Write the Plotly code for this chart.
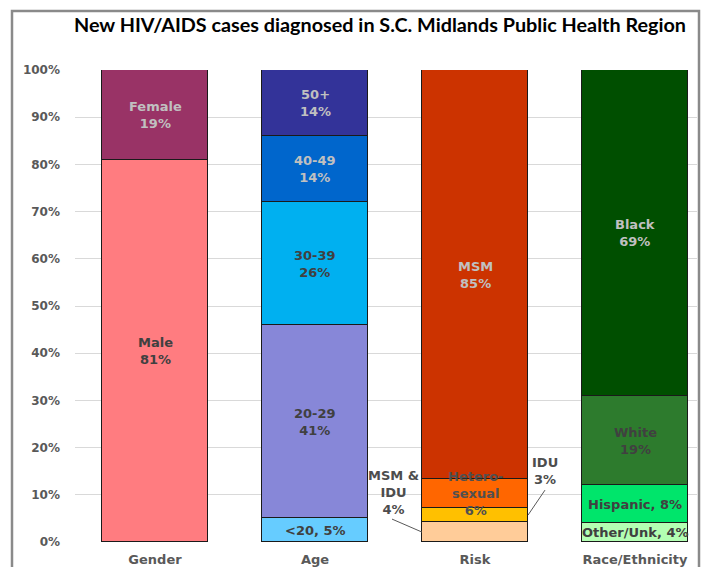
import plotly.graph_objects as go

# ---- data ----
categories = ["Gender", "Age", "Risk", "Race/Ethnicity"]

gender_labels = ["Male<br>81%", "Female<br>19%"]
gender_values = [81, 19]
gender_colors = ["#FF7C80", "#993366"]
gender_text_colors = ["#404040", "#C0C0C0"]

age_labels = ["<20, 5%", "20-29<br>41%", "30-39<br>26%", "40-49<br>14%", "50+<br>14%"]
age_values = [5, 41, 26, 14, 14]
age_colors = ["#66CCFF", "#8787D8", "#00B0F0", "#0066CC", "#333399"]
age_text_colors = ["#404040", "#404040", "#404040", "#C0C0C0", "#C0C0C0"]

risk_labels = ["MSM &<br>IDU<br>4%", "IDU<br>3%", "Hetero-<br>sexual<br>6%", "MSM<br>85%"]
risk_values = [4.2, 3.0, 6.1, 86.7]
risk_colors = ["#FFCC99", "#FFC000", "#FF6600", "#CC3300"]
risk_text_colors = ["#4d4d4d", "#4d4d4d", "#505050", "#C0C0C0"]

race_labels = ["Other/Unk, 4%", "Hispanic, 8%", "White<br>19%", "Black<br>69%"]
race_values = [4, 8, 19, 69]
race_colors = ["#B3FFB3", "#00E56B", "#2D7B2D", "#004F00"]
race_text_colors = ["#404040", "#404040", "#404040", "#C0C0C0"]

y_ticks = [0, 10, 20, 30, 40, 50, 60, 70, 80, 90, 100]
y_tick_text = [f"{v}%" for v in y_ticks]

groups = [
    (categories[0], gender_labels, gender_values, gender_colors, gender_text_colors),
    (categories[1], age_labels, age_values, age_colors, age_text_colors),
    (categories[2], risk_labels, risk_values, risk_colors, risk_text_colors),
    (categories[3], race_labels, race_values, race_colors, race_text_colors),
]

BAR_W = 0.6625
LABEL_FONT = dict(family="DejaVu Sans", size=13, color="#404040")

fig = go.Figure()
annotations = []
shapes = []

for ci, (cat, labels, values, colors, tcolors) in enumerate(groups):
    base = 0
    for si, (lab, val, col, tc) in enumerate(zip(labels, values, colors, tcolors)):
        fig.add_trace(go.Bar(
            x=[cat], y=[val], marker=dict(color=col, line=dict(color="#1a1a1a", width=1)),
            width=BAR_W, showlegend=False, hoverinfo="skip",
        ))
        mid = base + val / 2
        text = f"<b>{lab}</b>"
        if cat == "Risk" and si == 0:
            edge = ci - BAR_W / 2
            annotations.append(dict(x=edge, y=mid, xref="x", yref="y", text=text, showarrow=False,
                                    xshift=-29, yshift=40, font=dict(LABEL_FONT, color=tc)))
            shapes.append(dict(type="line", xref="x", yref="y", xsizemode="pixel", ysizemode="pixel",
                               xanchor=edge, yanchor=mid, x0=0, y0=0, x1=-30, y1=13,
                               line=dict(color="#595959", width=1)))
        elif cat == "Risk" and si == 1:
            edge = ci + BAR_W / 2
            annotations.append(dict(x=edge, y=mid, xref="x", yref="y", text=text, showarrow=False,
                                    xshift=17, yshift=44, font=dict(LABEL_FONT, color=tc)))
            shapes.append(dict(type="line", xref="x", yref="y", xsizemode="pixel", ysizemode="pixel",
                               xanchor=edge, yanchor=mid, x0=0, y0=0, x1=17, y1=25,
                               line=dict(color="#595959", width=1)))
        else:
            annotations.append(dict(x=ci, y=mid, xref="x", yref="y", text=text, showarrow=False,
                                    font=dict(LABEL_FONT, color=tc)))
        base += val

# Title
annotations.append(dict(x=(380 - 75) / 622, y=1.0, xref="paper", yref="paper", xanchor="center", yanchor="middle",
                        yshift=46, text="<b>New HIV/AIDS cases diagnosed in S.C. Midlands Public Health Region</b>",
                        showarrow=False, font=dict(family="Lato", size=19.8, color="#000000")))

# outer chart frame
shapes.append(dict(type="rect", xref="paper", yref="paper", x0=(12 - 75) / 622, x1=(699 - 75) / 622,
                   y0=-0.3, y1=(542 - 11) / 472, line=dict(color="#8a8a8a", width=2.5), layer="above"))

fig.update_layout(
    width=702, height=567,
    margin=dict(l=75, r=5, t=70, b=25),
    barmode="stack", bargap=0,
    plot_bgcolor="white", paper_bgcolor="white",
    annotations=annotations, shapes=shapes,
    xaxis=dict(type="category", categoryorder="array", categoryarray=categories,
               range=[-0.5, 3.3875], showgrid=False, showline=False, zeroline=False, ticks="",
               ticklabelstandoff=8, automargin=False,
               tickfont=dict(family="DejaVu Sans", size=13, color="#595959"),
               tickvals=categories, ticktext=[f"<b>{c}</b>" for c in categories]),
    yaxis=dict(range=[0, 100], tickvals=y_ticks, ticktext=[f"<b>{t}</b>" for t in y_tick_text],
               showgrid=True, gridcolor="#D9D9D9", gridwidth=1, zeroline=False, showline=False,
               ticks="", ticklabelstandoff=14, automargin=False,
               tickfont=dict(family="DejaVu Sans", size=12, color="#595959")),
)

fig.write_html("out.html", config={"displayModeBar": False},
               post_script="document.body.style.margin='0';document.body.style.overflow='hidden';")
